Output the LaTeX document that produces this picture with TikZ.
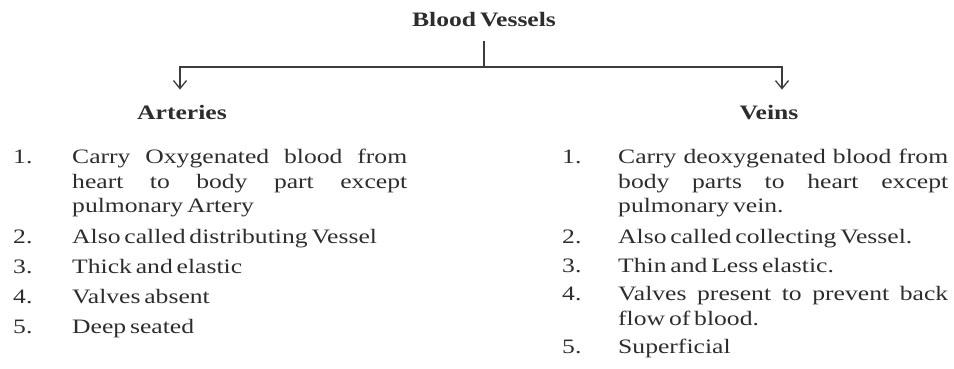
\documentclass[tikz,border=0pt]{standalone}
\usepackage{fontspec}
\setmainfont{Liberation Serif}[FakeStretch=1.25, WordSpace=0.6]
\usetikzlibrary{arrows.meta}
\definecolor{cInk}{RGB}{45,45,45}
\definecolor{cLine}{RGB}{60,60,60}

\begin{document}
\begin{tikzpicture}[
  x=1pt, y=-1pt,
  font=\fontsize{20.5}{25}\selectfont, text=cInk,
  head/.style  = {font=\fontsize{20.5}{25}\selectfont\bfseries, anchor=base, inner sep=0pt},
  num/.style   = {anchor=base west, inner sep=0pt},
  point/.style = {anchor=base west, inner sep=0pt, align=justify, text width=335pt},
  link/.style  = {line width=1.3pt, draw=cLine},
  flow/.style  = {link, -{Straight Barb[length=8pt, width=13pt]}, shorten >=16pt}
]
\useasboundingbox (0,0) rectangle (954,369);

% ------------------------------------------------------------ le teste --
\node[head] (vessels) at (484,27)  {Blood Vessels};
\node[head] (art)     at (182,120) {Arteries};
\node[head] (vein)    at (769,120) {Veins};

% ------------------------------------------------------------ le frecce --
\coordinate (split) at (484,67);
\draw[link, shorten <=13pt] (vessels) -- (split);
\draw[flow] (split) -| ([xshift=-2pt]art.north);
\draw[flow] (split) -| ([xshift=13pt]vein.north);

% ------------------------------------------------------------ arterie, a sx --
\node[num]   (an1) at (13,163) {1.};
\node[point] (at1) at (72,163) {Carry Oxygenated blood from\linebreak heart to body part except\linebreak pulmonary Artery};
\node[num]   (an2) at (13,243) {2.};
\node[point] (at2) at (72,243) {Also called distributing Vessel};
\node[num]   (an3) at (13,273) {3.};
\node[point] (at3) at (72,273) {Thick and elastic};
\node[num]   (an4) at (13,303) {4.};
\node[point] (at4) at (72,303) {Valves absent};
\node[num]   (an5) at (13,333) {5.};
\node[point] (at5) at (72,333) {Deep seated};

% ------------------------------------------------------------ vene, a dx --
\node[num]   (vn1) at (562,163) {1.};
\node[point, text width=330pt] (vt1) at (618,163) {Carry deoxygenated blood from\linebreak body parts to heart except\linebreak pulmonary vein.};
\node[num]   (vn2) at (562,243) {2.};
\node[point, text width=330pt] (vt2) at (618,243) {Also called collecting Vessel.};
\node[num]   (vn3) at (562,272) {3.};
\node[point, text width=330pt] (vt3) at (618,272) {Thin and Less elastic.};
\node[num]   (vn4) at (562,300) {4.};
\node[point, text width=330pt] (vt4) at (618,300) {Valves present to prevent back\linebreak flow of blood.};
\node[num]   (vn5) at (562,353) {5.};
\node[point, text width=330pt] (vt5) at (618,353) {Superficial};

\end{tikzpicture}
\end{document}
